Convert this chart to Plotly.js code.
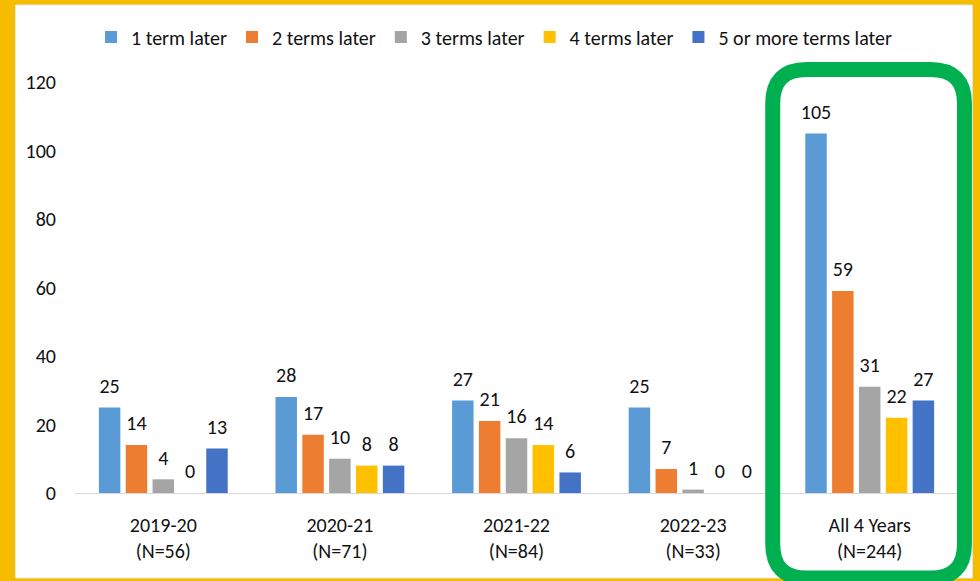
<!DOCTYPE html>
<html>
<head>
<meta charset="utf-8">
<script src="https://cdn.plot.ly/plotly-3.0.1.min.js"></script>
<style>html,body{margin:0;padding:0;background:#F5BC00;}#chart{width:980px;height:581px;}</style>
</head>
<body>
<div id="chart"></div>
<script>
// ---- data ----
const categories = ["2019-20<br>(N=56)", "2020-21<br>(N=71)", "2021-22<br>(N=84)", "2022-23<br>(N=33)", "All 4 Years<br>(N=244)"];
const seriesNames = ["1 term later", "2 terms later", "3 terms later", "4 terms later", "5 or more terms later"];
const term1 = [25, 28, 27, 25, 105];
const term2 = [14, 17, 21, 7, 59];
const term3 = [4, 10, 16, 1, 31];
const term4 = [0, 8, 14, 0, 22];
const term5 = [13, 8, 6, 0, 27];
const yTicks = [0, 20, 40, 60, 80, 100, 120];

// ---- styling ----
const colors = ["#5B9BD5", "#ED7D31", "#A5A5A5", "#FFC000", "#4472C4"];
const FONT = "Carlito, Calibri, 'Liberation Sans Narrow', 'Open Sans', sans-serif";
const FS = 20;
const allSeries = [term1, term2, term3, term4, term5];

const barTraces = allSeries.map((vals, i) => ({
  type: "bar",
  name: seriesNames[i],
  x: categories,
  y: vals,
  marker: {color: colors[i]},
  hoverinfo: "x+y+name"
}));

// value labels, grouped like the bars
const labelTraces = allSeries.map((vals, i) => ({
  type: "scatter",
  mode: "markers+text",
  x: categories,
  y: vals,
  text: vals.map(String),
  textposition: "top center",
  textfont: {family: FONT, size: FS, color: "#111"},
  marker: {size: 14, opacity: 0, color: colors[i]},
  cliponaxis: false,
  showlegend: false,
  hoverinfo: "skip"
}));

// pixel geometry helpers
const L = 74.5, R = 958.5, T = 82, B = 493;
const W = R - L, H = B - T;
const px = v => (v - L) / W;
const py = v => (B - v) / H;

function roundRect(x0, y0, x1, y1, r) {
  const X = v => px(v), Y = v => py(v);
  return `M ${X(x0 + r)} ${Y(y0)} L ${X(x1 - r)} ${Y(y0)} Q ${X(x1)} ${Y(y0)} ${X(x1)} ${Y(y0 + r)} ` +
         `L ${X(x1)} ${Y(y1 - r)} Q ${X(x1)} ${Y(y1)} ${X(x1 - r)} ${Y(y1)} ` +
         `L ${X(x0 + r)} ${Y(y1)} Q ${X(x0)} ${Y(y1)} ${X(x0)} ${Y(y1 - r)} ` +
         `L ${X(x0)} ${Y(y0 + r)} Q ${X(x0)} ${Y(y0)} ${X(x0 + r)} ${Y(y0)} Z`;
}

const layout = {
  width: 980, height: 581,
  margin: {l: L, r: 980 - R, t: T, b: 581 - B, pad: 0},
  paper_bgcolor: "#F5BC00",
  plot_bgcolor: "rgba(0,0,0,0)",
  font: {family: FONT, size: FS, color: "#111"},
  barmode: "group",
  bargap: 0.24,
  bargroupgap: 0.2,
  scattermode: "group",
  scattergap: 0.24,
  showlegend: true,
  legend: {
    orientation: "h", x: px(494), xanchor: "center", y: py(37), yanchor: "middle",
    font: {family: FONT, size: FS, color: "#111"},
    bgcolor: "rgba(0,0,0,0)", traceorder: "normal"
  },
  xaxis: {
    type: "category", showgrid: false, zeroline: false,
    showline: true, linecolor: "#D9D9D9", linewidth: 1,
    ticks: "outside", ticklen: 14, tickcolor: "rgba(0,0,0,0)",
    tickfont: {family: FONT, size: FS, color: "#111"}
  },
  yaxis: {
    range: [0, 120], tickvals: yTicks, ticktext: yTicks.map(String),
    showgrid: false, zeroline: false, showline: false,
    ticks: "outside", ticklen: 14, tickcolor: "rgba(0,0,0,0)",
    tickfont: {family: FONT, size: FS, color: "#111"}
  },
  shapes: [
    {type: "rect", xref: "paper", yref: "paper", layer: "below",
     x0: px(15), x1: px(973), y0: py(578), y1: py(5),
     fillcolor: "#FFFFFF", line: {color: "#E6E6E6", width: 1}},
    {type: "path", xref: "paper", yref: "paper", layer: "above",
     path: roundRect(773, 69.5, 965, 578, 34),
     fillcolor: "rgba(0,0,0,0)", line: {color: "#00B050", width: 15}}
  ]
};

Plotly.newPlot("chart", barTraces.concat(labelTraces), layout, {displayModeBar: false, staticPlot: true});
</script>
</body>
</html>
